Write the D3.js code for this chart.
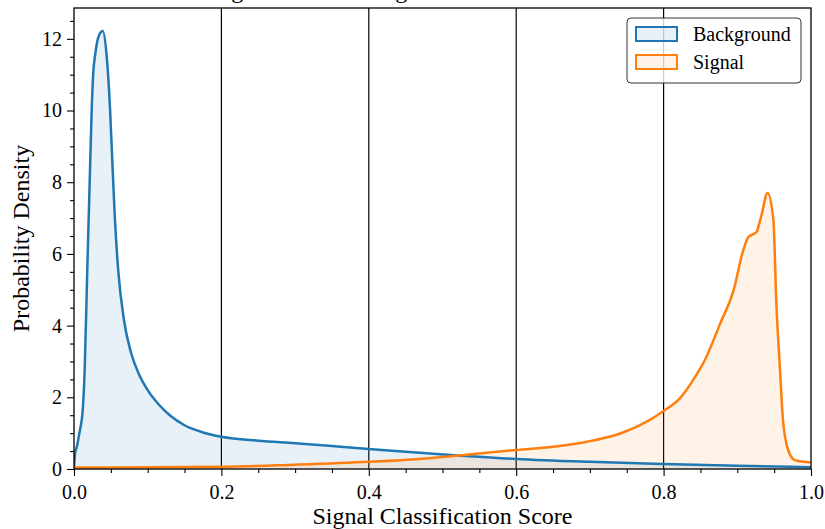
<!DOCTYPE html>
<html>
<head>
<meta charset="utf-8">
<script src="https://cdn.jsdelivr.net/npm/d3@7"></script>
<style>
  body { margin: 0; background: #fff; }
  svg { display: block; }
</style>
</head>
<body>
<div id="chart"></div>
<script>
// values
const bgX = [0, 0.0015, 0.0036, 0.0072, 0.0118, 0.0145, 0.018, 0.0217, 0.024, 0.026, 0.029, 0.034, 0.039,
  0.044, 0.049, 0.0525, 0.0556, 0.060, 0.0678, 0.078, 0.088, 0.1, 0.115, 0.13, 0.15, 0.175,
  0.2, 0.25, 0.3, 0.35, 0.4, 0.469, 0.52, 0.6, 0.7, 0.8, 0.9, 1.0]
const bgY = [0.02, 0.45, 0.6, 0.99, 1.64, 2.76, 5.54, 8.33, 10.0, 11.0, 11.6, 12.1, 12.22,
  11.6, 10.0, 8.33, 6.94, 5.54, 4.15, 3.2, 2.65, 2.2, 1.8, 1.5, 1.22, 1.02,
  0.9, 0.79, 0.72, 0.64, 0.56, 0.45, 0.38, 0.28, 0.2, 0.14, 0.09, 0.05]

const sigX = [0, 0.1, 0.2, 0.3, 0.4, 0.469, 0.519, 0.6, 0.65, 0.696, 0.741, 0.777, 0.8, 0.822, 0.84,
  0.856, 0.877, 0.895, 0.908, 0.915, 0.926, 0.933, 0.941, 0.949, 0.953, 0.958, 0.962, 0.969, 0.978, 0.99, 1.0]
const sigY = [0.04, 0.05, 0.06, 0.12, 0.2, 0.28, 0.37, 0.53, 0.62, 0.76, 0.99, 1.32, 1.62, 1.97, 2.48,
  3.04, 4.07, 4.99, 6.1, 6.47, 6.61, 7.1, 7.7, 6.94, 4.62, 2.76, 1.36, 0.53, 0.25, 0.2, 0.18]

const seriesNames = ["Background", "Signal"]
const seriesColors = ["#1f77b4", "#ff7f0e"]

const xTicks = [0, 0.2, 0.4, 0.6, 0.8, 1.0]
const yTicks = [0, 2, 4, 6, 8, 10, 12]
const gridX = [0.2, 0.4, 0.6, 0.8]

const titleText = "Signal versus Background Score Distribution"
const xLabel = "Signal Classification Score"
const yLabel = "Probability Density"

const width = 825, height = 529
const margin = {top: 8, right: 14, bottom: 60, left: 74}
const font = "'Liberation Serif', 'Times New Roman', serif"

const svg = d3.select("#chart").append("svg")
  .attr("width", width)
  .attr("height", height)

const x = d3.scaleLinear().domain([0, 1]).range([margin.left, width - margin.right])
const y = d3.scaleLinear().domain([0, 12.86]).range([height - margin.bottom, margin.top])

// title, mostly cut off by the top edge like the reference
svg.append("text")
  .attr("x", (x(0) + x(1)) / 2 - 14)
  .attr("y", -2)
  .attr("text-anchor", "middle")
  .attr("font-family", font)
  .attr("font-size", 24)
  .text(titleText)

svg.append("defs").append("clipPath").attr("id", "plot")
  .append("rect")
  .attr("x", x(0)).attr("y", y(12.86))
  .attr("width", x(1) - x(0)).attr("height", y(0) - y(12.86))

// vertical grid lines
svg.append("g").selectAll("line")
  .data(gridX)
  .enter()
  .append("line")
  .attr("x1", d => x(d)).attr("x2", d => x(d))
  .attr("y1", y(0)).attr("y2", y(12.86))
  .attr("stroke", "#000")
  .attr("stroke-width", 1.2)

const series = [
  {name: seriesNames[0], color: seriesColors[0], pts: bgX.map((v, i) => [v, bgY[i]])},
  {name: seriesNames[1], color: seriesColors[1], pts: sigX.map((v, i) => [v, sigY[i]])}
]

const area = d3.area()
  .x(d => x(d[0]))
  .y0(y(0))
  .y1(d => y(d[1]))
  .curve(d3.curveMonotoneX)

const line = d3.line()
  .x(d => x(d[0]))
  .y(d => y(d[1]))
  .curve(d3.curveMonotoneX)

const plot = svg.append("g").attr("clip-path", "url(#plot)")

plot.selectAll("path.fill")
  .data(series)
  .enter()
  .append("path")
  .attr("class", "fill")
  .attr("d", d => area(d.pts))
  .attr("fill", d => d.color)
  .attr("fill-opacity", 0.1)

plot.selectAll("path.line")
  .data(series)
  .enter()
  .append("path")
  .attr("class", "line")
  .attr("d", d => line(d.pts))
  .attr("fill", "none")
  .attr("stroke", d => d.color)
  .attr("stroke-width", 2.5)

// axes
const xAxis = svg.append("g")
  .attr("transform", `translate(0,${y(0)})`)
  .call(d3.axisBottom(x).tickValues(xTicks).tickFormat(d3.format(".1f")).tickSize(7).tickSizeOuter(0).tickPadding(9))
const xMinor = svg.append("g")
  .attr("transform", `translate(0,${y(0)})`)
  .call(d3.axisBottom(x).tickValues(d3.range(0.05, 1, 0.05).filter((d, i) => (i + 1) % 4 != 0)).tickFormat("").tickSize(4).tickSizeOuter(0))

const yAxis = svg.append("g")
  .attr("transform", `translate(${x(0)},0)`)
  .call(d3.axisLeft(y).tickValues(yTicks).tickSize(7).tickSizeOuter(0).tickPadding(5))
const yMinor = svg.append("g")
  .attr("transform", `translate(${x(0)},0)`)
  .call(d3.axisLeft(y).tickValues(d3.range(0.5, 12.86, 0.5).filter((d, i) => (i + 1) % 4 != 0)).tickFormat("").tickSize(4).tickSizeOuter(0))

;[xAxis, xMinor, yAxis, yMinor].forEach(g => {
  g.select(".domain").remove()
  g.selectAll(".tick line").attr("stroke", "#000").attr("stroke-width", 1.1)
  g.selectAll("text").attr("font-family", font).attr("font-size", 20).attr("fill", "#000")
})

// frame
svg.append("rect")
  .attr("x", x(0)).attr("y", y(12.86))
  .attr("width", x(1) - x(0)).attr("height", y(0) - y(12.86))
  .attr("fill", "none")
  .attr("stroke", "#000")
  .attr("stroke-width", 1.3)

svg.append("text")
  .attr("x", (x(0) + x(1)) / 2)
  .attr("y", 523.5)
  .attr("text-anchor", "middle")
  .attr("font-family", font)
  .attr("font-size", 24)
  .text(xLabel)

svg.append("text")
  .attr("transform", `translate(29,${(y(0) + y(12.86)) / 2}) rotate(-90)`)
  .attr("text-anchor", "middle")
  .attr("font-family", font)
  .attr("font-size", 24)
  .text(yLabel)

// legend
const legend = svg.append("g").attr("transform", "translate(627,18)")
legend.append("rect")
  .attr("width", 174).attr("height", 65)
  .attr("rx", 4)
  .attr("fill", "#fff").attr("fill-opacity", 0.8)
  .attr("stroke", "#333").attr("stroke-width", 1)

const item = legend.selectAll("g.item")
  .data(series)
  .enter()
  .append("g")
  .attr("class", "item")
  .attr("transform", (d, i) => `translate(0,${9 + i * 28})`)

item.append("rect")
  .attr("x", 9).attr("width", 41).attr("height", 14)
  .attr("fill", d => d.color).attr("fill-opacity", 0.1)
  .attr("stroke", d => d.color).attr("stroke-width", 2)

item.append("text")
  .attr("x", 66).attr("y", 14)
  .attr("font-family", font)
  .attr("font-size", 20)
  .text(d => d.name)
</script>
</body>
</html>
